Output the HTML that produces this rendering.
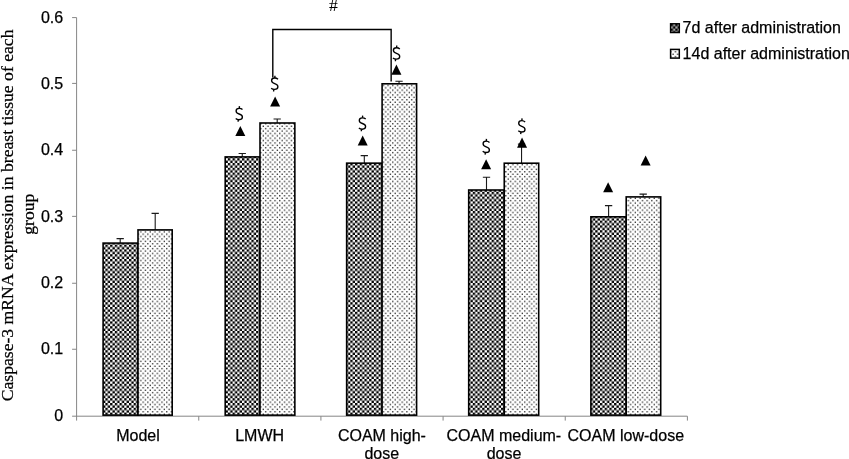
<!DOCTYPE html>
<html><head><meta charset="utf-8"><title>chart</title>
<style>
html,body{margin:0;padding:0;background:#fff;}
body{width:849px;height:459px;overflow:hidden;position:relative;}
svg{position:absolute;left:0;top:0;display:block;will-change:transform;}
text{font-family:"Liberation Sans",sans-serif;font-size:16px;fill:#000;stroke:#000;stroke-width:0.25px;}
.ser{font-family:"Liberation Serif",serif;font-size:17.65px;}
</style></head><body>
<svg width="849" height="459" viewBox="0 0 849 459">
<defs>
<pattern id="chk" x="1.78" y="-0.2" width="4.71" height="4.8" patternUnits="userSpaceOnUse">
<rect x="0" y="0" width="4.71" height="4.8" fill="#fff"/>
<rect x="0" y="0" width="2.355" height="2.4" fill="#000"/>
<rect x="2.355" y="2.4" width="2.355" height="2.4" fill="#000"/>
</pattern>
<pattern id="dot" x="3.02" y="0.2" width="4.71" height="4.8" patternUnits="userSpaceOnUse">
<rect x="0" y="0" width="4.71" height="4.8" fill="#fff"/>
<rect x="0.6" y="0.6" width="1.22" height="1.22" fill="#000"/>
<rect x="2.955" y="3.0" width="1.22" height="1.22" fill="#000"/>
</pattern>
<g id="dol" fill="none" stroke="#000" stroke-width="1.35" stroke-linecap="butt">
<path d="M7.2 3.5 C6.2 2.5 5 2.2 3.9 2.2 C2 2.2 0.8 3.2 0.8 4.8 C0.8 6.6 2.2 7.3 3.9 7.9 C5.8 8.6 7.1 9.3 7.1 11 C7.1 12.7 5.6 13.6 3.7 13.6 C2.3 13.6 1.2 13.2 0.4 12.4"/>
<path d="M4.15 0 L4.0 2.2"/><path d="M3.0 13.6 L2.8 15.7"/>
</g>
<path id="tri" d="M0 10.1 L5 0 L10 10.1 Z" fill="#000"/>
</defs>

<g stroke="#868686" stroke-width="1" fill="none">
<path d="M76.6 17.6 V420.6"/>
<path d="M72.1 416.2 H687.4"/>
<path d="M72.1 17.60 H76.6"/>
<path d="M72.1 83.40 H76.6"/>
<path d="M72.1 150.26 H76.6"/>
<path d="M72.1 216.36 H76.6"/>
<path d="M72.1 283.26 H76.6"/>
<path d="M72.1 349.26 H76.6"/>
<path d="M198.76 416.2 V420.6"/>
<path d="M320.92 416.2 V420.6"/>
<path d="M443.08 416.2 V420.6"/>
<path d="M565.24 416.2 V420.6"/>
<path d="M687.40 416.2 V420.6"/>
</g>
<text x="63.2" y="22.80" text-anchor="end">0.6</text>
<text x="63.2" y="88.60" text-anchor="end">0.5</text>
<text x="63.2" y="155.46" text-anchor="end">0.4</text>
<text x="63.2" y="221.56" text-anchor="end">0.3</text>
<text x="63.2" y="288.46" text-anchor="end">0.2</text>
<text x="63.2" y="354.46" text-anchor="end">0.1</text>
<text x="63.2" y="421.40" text-anchor="end">0</text>
<path d="M120.20 243.10 V238.65 M116.55 238.65 H123.85" stroke="#1a1a1a" stroke-width="1.1" fill="none"/>
<rect x="103.10" y="243.10" width="34.90" height="172.05" fill="url(#chk)" stroke="#000" stroke-width="1.6"/>
<path d="M155.20 229.90 V213.40 M151.55 213.40 H158.85" stroke="#1a1a1a" stroke-width="1.1" fill="none"/>
<rect x="138.00" y="229.90" width="34.20" height="185.25" fill="url(#dot)" stroke="#000" stroke-width="1.6"/>
<path d="M242.25 156.90 V153.50 M238.60 153.50 H245.90" stroke="#1a1a1a" stroke-width="1.1" fill="none"/>
<rect x="225.20" y="156.90" width="34.80" height="258.25" fill="url(#chk)" stroke="#000" stroke-width="1.6"/>
<path d="M277.20 123.00 V119.00 M273.55 119.00 H280.85" stroke="#1a1a1a" stroke-width="1.1" fill="none"/>
<rect x="260.00" y="123.00" width="34.85" height="292.15" fill="url(#dot)" stroke="#000" stroke-width="1.6"/>
<path d="M364.30 163.15 V155.60 M360.65 155.60 H367.95" stroke="#1a1a1a" stroke-width="1.1" fill="none"/>
<rect x="346.65" y="163.15" width="35.45" height="252.00" fill="url(#chk)" stroke="#000" stroke-width="1.6"/>
<path d="M399.05 83.80 V81.30 M395.40 81.30 H402.70" stroke="#1a1a1a" stroke-width="1.1" fill="none"/>
<rect x="382.10" y="83.80" width="34.50" height="331.35" fill="url(#dot)" stroke="#000" stroke-width="1.6"/>
<path d="M486.50 190.00 V177.30 M482.85 177.30 H490.15" stroke="#1a1a1a" stroke-width="1.1" fill="none"/>
<rect x="468.70" y="190.00" width="35.55" height="225.15" fill="url(#chk)" stroke="#000" stroke-width="1.6"/>
<path d="M521.55 163.20 V144.10 M517.90 144.10 H525.20" stroke="#1a1a1a" stroke-width="1.1" fill="none"/>
<rect x="504.25" y="163.20" width="34.45" height="251.95" fill="url(#dot)" stroke="#000" stroke-width="1.6"/>
<path d="M608.60 216.80 V205.60 M604.95 205.60 H612.25" stroke="#1a1a1a" stroke-width="1.1" fill="none"/>
<rect x="590.90" y="216.80" width="35.30" height="198.35" fill="url(#chk)" stroke="#000" stroke-width="1.6"/>
<path d="M643.20 196.90 V194.10 M639.55 194.10 H646.85" stroke="#1a1a1a" stroke-width="1.1" fill="none"/>
<rect x="626.20" y="196.90" width="34.50" height="218.25" fill="url(#dot)" stroke="#000" stroke-width="1.6"/>
<path d="M272.8 77.6 V29.5 H391.15 V81.5" fill="none" stroke="#000" stroke-width="1.4"/>
<text class="ser" style="stroke:none" x="333.5" y="10.6" text-anchor="middle">#</text>
<use href="#dol" x="235.3" y="106.1"/>
<use href="#dol" x="270.8" y="75.8"/>
<use href="#dol" x="358.5" y="115.6"/>
<use href="#dol" x="392.6" y="45.5"/>
<use href="#dol" x="482.3" y="138.9"/>
<use href="#dol" x="517.9" y="118.4"/>
<use href="#tri" x="235.3" y="125.9"/>
<use href="#tri" x="270.1" y="96.5"/>
<use href="#tri" x="357.7" y="135.4"/>
<use href="#tri" x="391.4" y="64.6"/>
<use href="#tri" x="481.1" y="159.2"/>
<use href="#tri" x="517.05" y="137.6"/>
<use href="#tri" x="603.1" y="182.2"/>
<use href="#tri" x="640.6" y="155.5"/>
<rect x="670.6" y="23.8" width="8.7" height="8.7" fill="url(#chk)" stroke="#000" stroke-width="1.5"/>
<rect x="671.4" y="24.6" width="7.1" height="7.1" fill="#000" opacity="0.35"/>
<rect x="670.6" y="49.4" width="8.7" height="8.7" fill="url(#dot)" stroke="#000" stroke-width="1.5"/>
<text x="682.6" y="33.1">7d after administration</text>
<text x="682.6" y="58.9">14d after administration</text>
<text x="137.98" y="440.6" text-anchor="middle">Model</text>
<text x="259.64" y="440.6" text-anchor="middle">LMWH</text>
<text x="381.90" y="440.6" text-anchor="middle">COAM high-</text>
<text x="381.80" y="459.1" text-anchor="middle">dose</text>
<text x="503.86" y="440.6" text-anchor="middle">COAM medium-</text>
<text x="504.06" y="459.1" text-anchor="middle">dose</text>
<text x="625.82" y="440.6" text-anchor="middle">COAM low-dose</text>
<text class="ser" transform="translate(13.2 215.4) rotate(-90)" text-anchor="middle">Caspase-3 mRNA expression in breast tissue of each</text>
<text class="ser" transform="translate(33.8 214.2) rotate(-90)" text-anchor="middle">group</text>
</svg></body></html>
